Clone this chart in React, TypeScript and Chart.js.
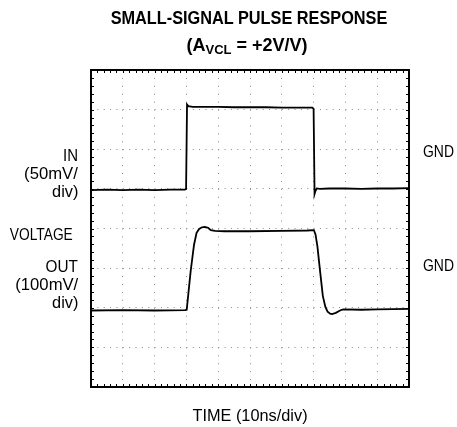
import React, { useEffect, useRef } from "react";
import { Chart, registerables } from "chart.js";

Chart.register(...registerables);

// Time axis: 10 divisions of 10 ns
const X_MIN = 0;
const X_MAX = 100;
const X_STEP = 10;
// Vertical: 8 divisions (values are in screen divisions from the bottom)
const Y_MIN = 0;
const Y_MAX = 8;
const Y_STEP = 1;
const MINOR_PER_DIV = 5;

// IN trace (50mV/div), ground at division 5
const inTime = [0, 5, 10, 15, 20, 25, 29.5, 29.9, 30.2, 30.6, 32, 36, 40, 45, 50, 55, 60, 65, 69.6, 70.0, 70.3, 70.6, 71, 72, 75, 80, 85, 90, 95, 100];
const inLevel = [4.97, 4.98, 4.97, 4.98, 4.97, 4.98, 4.98, 5.0, 7.13, 7.09, 7.07, 7.07, 7.07, 7.06, 7.06, 7.06, 7.05, 7.05, 7.05, 7.02, 4.87, 4.95, 5.01, 5.0, 5.01, 5.01, 5.0, 5.01, 5.01, 5.02];

// OUT trace (100mV/div), ground at division 2
const outTime = [0, 10, 20, 29.6, 30.1, 31.35, 32.4, 33.2, 34.0, 34.9, 35.8, 36.8, 37.7, 39, 42, 50, 60, 68, 70.1, 70.6, 71.2, 72.0, 72.9, 73.7, 74.4, 75.2, 75.8, 77.0, 78.3, 79.3, 85, 90, 100];
const outLevel = [1.93, 1.94, 1.93, 1.94, 1.95, 2.93, 3.59, 3.89, 3.99, 4.03, 4.04, 4.02, 3.96, 3.94, 3.93, 3.93, 3.94, 3.95, 3.96, 3.85, 3.55, 2.95, 2.3, 2.02, 1.9, 1.85, 1.84, 1.87, 1.93, 1.96, 1.95, 1.96, 1.97];

const FONT = '"Liberation Sans", Arial, Helvetica, sans-serif';

const frameTicks = {
  id: "frameTicks",
  afterDatasetsDraw(chart: any) {
    const { ctx, chartArea: a, scales } = chart;
    const xs = scales.x;
    const ys = scales.y;
    ctx.save();
    ctx.strokeStyle = "#000";
    ctx.lineWidth = 1;
    const nx = ((X_MAX - X_MIN) / X_STEP) * MINOR_PER_DIV;
    for (let i = 0; i <= nx; i++) {
      const v = X_MIN + (i * X_STEP) / MINOR_PER_DIV;
      const px = Math.round(xs.getPixelForValue(v)) + 0.5;
      ctx.beginPath();
      ctx.moveTo(px, a.top);
      ctx.lineTo(px, a.top + 3);
      ctx.moveTo(px, a.bottom);
      ctx.lineTo(px, a.bottom - 3);
      ctx.stroke();
    }
    const ny = ((Y_MAX - Y_MIN) / Y_STEP) * MINOR_PER_DIV;
    for (let i = 0; i <= ny; i++) {
      const v = Y_MIN + (i * Y_STEP) / MINOR_PER_DIV;
      const py = Math.round(ys.getPixelForValue(v)) + 0.5;
      ctx.beginPath();
      ctx.moveTo(a.left, py);
      ctx.lineTo(a.left + 3, py);
      ctx.moveTo(a.right, py);
      ctx.lineTo(a.right - 3, py);
      ctx.stroke();
    }
    ctx.lineWidth = 2;
    ctx.strokeRect(a.left, a.top, a.right - a.left, a.bottom - a.top);
    ctx.restore();
  },
};

type LabelProps = {
  text: React.ReactNode;
  x: number;
  cy: number;
  align: "left" | "right" | "center";
  size: number;
  bold?: boolean;
  sx?: number;
};

function Label({ text, x, cy, align, size, bold, sx = 1 }: LabelProps) {
  const top = cy - 0.4885 * size;
  const style: React.CSSProperties = {
    position: "absolute",
    top,
    fontFamily: FONT,
    fontSize: size,
    lineHeight: `${size}px`,
    fontWeight: bold ? "bold" : "normal",
    whiteSpace: "nowrap",
    color: "#000",
  };
  if (align === "right") {
    style.right = 457 - x;
    style.transform = `scaleX(${sx})`;
    style.transformOrigin = "right center";
  } else if (align === "left") {
    style.left = x;
    style.transform = `scaleX(${sx})`;
    style.transformOrigin = "left center";
  } else {
    style.left = x;
    style.transform = `translateX(-50%) scaleX(${sx})`;
    style.transformOrigin = "center center";
  }
  return <div style={style}>{text}</div>;
}

export default function App() {
  const canvasRef = useRef<HTMLCanvasElement | null>(null);

  useEffect(() => {
    const canvas = canvasRef.current;
    if (!canvas) return;
    const chart = new Chart(canvas, {
      type: "line",
      data: {
        datasets: [
          {
            label: "IN",
            data: inTime.map((t, i) => ({ x: t, y: inLevel[i] })),
            borderColor: "#000",
            borderWidth: 1.8,
            pointRadius: 0,
            tension: 0,
            fill: false,
          },
          {
            label: "OUT",
            data: outTime.map((t, i) => ({ x: t, y: outLevel[i] })),
            borderColor: "#000",
            borderWidth: 1.8,
            pointRadius: 0,
            tension: 0,
            fill: false,
          },
        ],
      },
      options: {
        animation: false,
        responsive: false,
        maintainAspectRatio: false,
        layout: { padding: { left: 91, right: 48, top: 70, bottom: 40 } },
        plugins: { legend: { display: false }, tooltip: { enabled: false }, title: { display: false } },
        scales: {
          x: {
            type: "linear",
            min: X_MIN,
            max: X_MAX,
            ticks: { display: false, stepSize: X_STEP },
            grid: { color: "#8a8a8a", lineWidth: 1, drawTicks: false },
            border: { display: false, dash: [1, 6.925] },
          },
          y: {
            type: "linear",
            min: Y_MIN,
            max: Y_MAX,
            ticks: { display: false, stepSize: Y_STEP },
            grid: { color: "#8a8a8a", lineWidth: 1, drawTicks: false },
            border: { display: false, dash: [1, 5.36] },
          },
        },
      },
      plugins: [frameTicks],
    });
    return () => chart.destroy();
  }, []);

  return (
    <div style={{ position: "absolute", left: 0, top: 0, width: 457, height: 427, background: "#fff", overflow: "hidden" }}>
      <canvas ref={canvasRef} width={457} height={427} style={{ position: "absolute", left: 0, top: 0, width: 457, height: 427 }} />
      <Label text="SMALL-SIGNAL PULSE RESPONSE" x={249} cy={17.5} align="center" size={18} bold sx={0.905} />
      <Label
        text={
          <>
            (A<span style={{ fontSize: 13, position: "relative", top: 3 }}>VCL</span> = +2V/V)
          </>
        }
        x={247}
        cy={44.5}
        align="center"
        size={18}
        bold
      />
      <Label text="IN" x={78} cy={155.5} align="right" size={17} sx={0.88} />
      <Label text="(50mV/" x={78} cy={173.5} align="right" size={17} sx={0.98} />
      <Label text="div)" x={78} cy={191.5} align="right" size={17} sx={0.96} />
      <Label text="VOLTAGE" x={73} cy={234} align="right" size={17} sx={0.81} />
      <Label text="OUT" x={78} cy={266} align="right" size={17} sx={0.9} />
      <Label text="(100mV/" x={78} cy={284} align="right" size={17} sx={0.98} />
      <Label text="div)" x={78} cy={302} align="right" size={17} sx={0.96} />
      <Label text="GND" x={423} cy={151.7} align="left" size={17} sx={0.82} />
      <Label text="GND" x={423} cy={265} align="left" size={17} sx={0.82} />
      <Label text="TIME (10ns/div)" x={250} cy={415} align="center" size={17} sx={0.96} />
    </div>
  );
}
